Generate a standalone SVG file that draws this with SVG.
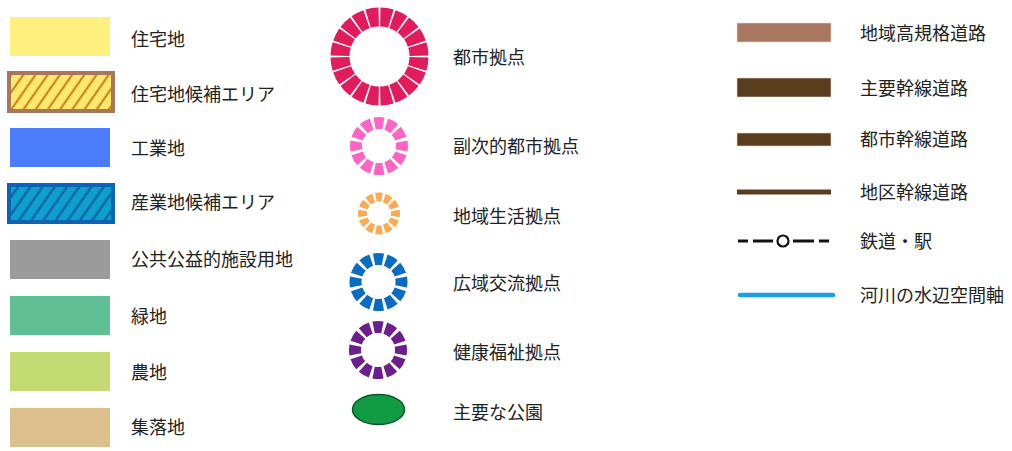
<svg xmlns="http://www.w3.org/2000/svg" width="1012" height="451" viewBox="0 0 1012 451">
<style>
text{font-family:"Noto Sans CJK JP","Noto Sans",sans-serif;font-size:18px;fill:#222}
.ring12{fill:none;stroke-dasharray:7.6 2.4;stroke-dashoffset:3.8}
</style>
<defs>
<pattern id="hatchY" width="10" height="10" patternUnits="userSpaceOnUse" patternTransform="rotate(35)">
<rect width="10" height="10" fill="#fbe86e"/>
<line x1="2" y1="0" x2="2" y2="10" stroke="#c9871f" stroke-width="2.2"/>
</pattern>
<pattern id="hatchB" width="10" height="10" patternUnits="userSpaceOnUse" patternTransform="rotate(35)">
<rect width="10" height="10" fill="#0ea0cb"/>
<line x1="2" y1="0" x2="2" y2="10" stroke="#0b63ad" stroke-width="2.4"/>
</pattern>
</defs>
<rect width="1012" height="451" fill="#fff"/>

<g id="residential">
<rect x="10" y="17" width="100" height="39" fill="#fdf07e"/>
<text x="131" y="46">住宅地</text>
</g>
<g id="residential-candidate">
<rect x="9" y="73" width="104" height="38" fill="url(#hatchY)" stroke="#a8765a" stroke-width="4"/>
<text x="131" y="101">住宅地候補エリア</text>
</g>
<g id="industrial">
<rect x="10" y="128" width="100" height="39" fill="#4b7cfb"/>
<text x="131" y="155">工業地</text>
</g>
<g id="industrial-candidate">
<rect x="9" y="185" width="104" height="37" fill="url(#hatchB)" stroke="#0b64b8" stroke-width="4"/>
<text x="131" y="209">産業地候補エリア</text>
</g>
<g id="public">
<rect x="10" y="240" width="100" height="39" fill="#9b9b9b"/>
<text x="131" y="266">公共公益的施設用地</text>
</g>
<g id="green">
<rect x="10" y="296" width="100" height="39" fill="#60bf94"/>
<text x="131" y="323">緑地</text>
</g>
<g id="farmland">
<rect x="10" y="352" width="100" height="39" fill="#c3db72"/>
<text x="131" y="379">農地</text>
</g>
<g id="village">
<rect x="10" y="408" width="100" height="39" fill="#dcc18f"/>
<text x="131" y="434">集落地</text>
</g>

<g id="urban-hub">
<circle cx="379.5" cy="56.5" r="39.5" fill="none" stroke="#e01c5c" stroke-width="19" pathLength="200" stroke-dasharray="8.7 1.3" stroke-dashoffset="9.35"/>
<text x="453" y="64">都市拠点</text>
</g>
<g id="sub-urban-hub">
<circle class="ring12" cx="379" cy="146" r="23" stroke="#fd64c3" stroke-width="12" pathLength="120"/>
<text x="453" y="153">副次的都市拠点</text>
</g>
<g id="local-hub">
<circle class="ring12" cx="379" cy="213.5" r="16.5" stroke="#fdaa55" stroke-width="9" pathLength="120" style="stroke-dasharray:7.3 2.7;stroke-dashoffset:3.65"/>
<text x="453" y="223">地域生活拠点</text>
</g>
<g id="exchange-hub">
<circle class="ring12" cx="378.5" cy="282" r="23" stroke="#0a6cc0" stroke-width="12" pathLength="120"/>
<text x="453" y="290">広域交流拠点</text>
</g>
<g id="welfare-hub">
<circle class="ring12" cx="378" cy="350" r="23" stroke="#6b1f8c" stroke-width="12" pathLength="120"/>
<text x="453" y="359">健康福祉拠点</text>
</g>
<g id="park">
<ellipse cx="378.5" cy="409.5" rx="26" ry="15" fill="#119a43" stroke="#0a5a25" stroke-width="1.5"/>
<text x="453" y="419">主要な公園</text>
</g>

<g id="regional-highway">
<rect x="737" y="23" width="94" height="19" fill="#a9775f" stroke="#e8d6c8" stroke-width="0.6"/>
<text x="860" y="40">地域高規格道路</text>
</g>
<g id="major-arterial">
<rect x="737" y="78" width="94" height="19" fill="#5a3c1e" stroke="#e8d6c8" stroke-width="0.6"/>
<text x="860" y="95">主要幹線道路</text>
</g>
<g id="urban-arterial">
<rect x="737" y="133" width="94" height="13" fill="#5a3c1e" stroke="#e8d6c8" stroke-width="0.6"/>
<text x="860" y="146">都市幹線道路</text>
</g>
<g id="district-arterial">
<rect x="737" y="189.5" width="94" height="5" fill="#5a3c1e"/>
<text x="860" y="199">地区幹線道路</text>
</g>
<g id="railway">
<g stroke="#111" stroke-width="3">
<line x1="738" y1="241" x2="748" y2="241"/>
<line x1="753" y1="241" x2="773" y2="241"/>
<line x1="793" y1="241" x2="814" y2="241"/>
<line x1="819" y1="241" x2="829" y2="241"/>
</g>
<circle cx="783" cy="241" r="5.5" fill="#fff" stroke="#111" stroke-width="2.2"/>
<text x="860" y="248">鉄道・駅</text>
</g>
<g id="river">
<line x1="740" y1="295" x2="833" y2="295" stroke="#1aa0e8" stroke-width="4.5" stroke-linecap="round"/>
<text x="860" y="302">河川の水辺空間軸</text>
</g>
<g id="connectors"/>
</svg>
